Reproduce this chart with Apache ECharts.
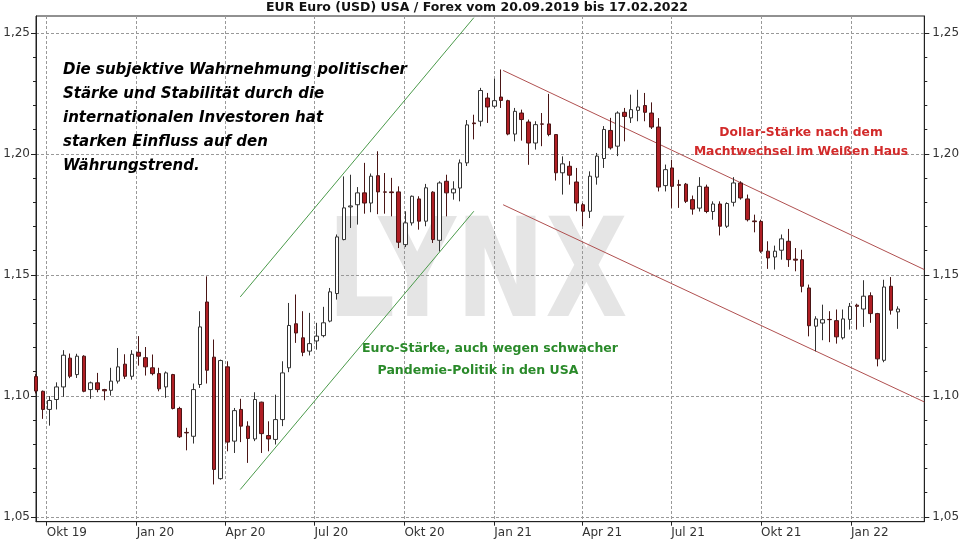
<!DOCTYPE html>
<html><head><meta charset="utf-8">
<script src="https://cdn.jsdelivr.net/npm/echarts@6/dist/echarts.min.js"></script>
<style>html,body{margin:0;padding:0;background:#fff}#c{width:960px;height:540px}</style>
</head><body><div id="c"></div>
<script>
// ---- data ----
const startDate = '2019-09-20';   // first weekly candle, first day of the axis
const endDate = '2022-03-17';     // last day of the axis
const candleCount = 127;          // weekly candles
const openVals = [1.1080,1.1019,1.0944,1.0985,1.1037,1.1156,1.1088,1.1164,1.1026,1.1054,
1.1026,1.1023,1.1061,1.1131,1.1081,1.1180,1.1158,1.1116,1.1092,1.1037,
1.1088,1.0948,1.0849,1.0833,1.1047,1.1388,1.1160,1.0658,1.1120,1.0813,
1.0944,1.0875,1.0822,1.0974,1.0836,1.0820,1.0902,1.1116,1.1298,1.1240,
1.1185,1.1227,1.1249,1.1309,1.1423,1.1646,1.1781,1.1790,1.1839,1.1797,
1.1910,1.1843,1.1843,1.1843,1.1625,1.1715,1.1814,1.1722,1.1842,1.1643,
1.1887,1.1839,1.1859,1.1963,1.2128,1.2135,1.2231,1.2197,1.2235,1.2220,
1.2082,1.2169,1.2132,1.2045,1.2124,1.2124,1.2080,1.1922,1.1949,1.1884,
1.1790,1.1763,1.1904,1.1981,1.2097,1.2032,1.2172,1.2149,1.2180,1.2200,
1.2169,1.2111,1.1869,1.1942,1.1873,1.1875,1.1811,1.1776,1.1863,1.1762,
1.1793,1.1701,1.1800,1.1880,1.1814,1.1723,1.1721,1.1598,1.1574,1.1602,
1.1639,1.1565,1.1563,1.1446,1.1288,1.1301,1.1316,1.1311,1.1240,1.1316,
1.1375,1.1359,1.1414,1.1340,1.1147,1.1453,1.1347];
const closeVals = [1.1020,1.0944,1.0981,1.1037,1.1168,1.1081,1.1164,1.1019,1.1054,1.1026,
1.1021,1.1061,1.1120,1.1081,1.1172,1.1164,1.1120,1.1092,1.1029,1.1095,
1.0948,1.0831,1.0847,1.1026,1.1285,1.1106,1.0696,1.1146,1.0809,1.0939,
1.0875,1.0824,1.0985,1.0844,1.0822,1.0902,1.1095,1.1291,1.1260,1.1180,
1.1216,1.1247,1.1302,1.1430,1.1657,1.1777,1.1785,1.1839,1.1797,1.1908,
1.1843,1.1842,1.1840,1.1635,1.1715,1.1825,1.1722,1.1860,1.1646,1.1880,
1.1839,1.1855,1.1963,1.2120,1.2125,1.2262,1.2194,1.2220,1.2221,1.2082,
1.2176,1.2142,1.2045,1.2121,1.2123,1.2080,1.1922,1.1959,1.1912,1.1797,
1.1763,1.1908,1.1991,1.2101,1.2025,1.2169,1.2155,1.2183,1.2194,1.2172,
1.2111,1.1863,1.1935,1.1866,1.1870,1.1804,1.1772,1.1866,1.1762,1.1793,
1.1701,1.1795,1.1880,1.1818,1.1728,1.1720,1.1598,1.1570,1.1598,1.1649,
1.1563,1.1561,1.1453,1.1290,1.1318,1.1315,1.1315,1.1244,1.1318,1.1370,
1.1370,1.1412,1.1340,1.1153,1.1450,1.1354,1.1359];
const lowVals = [1.1010,1.0905,1.0877,1.0944,1.0996,1.1073,1.1074,1.1015,1.0988,1.1015,
1.0982,1.1001,1.1051,1.1070,1.1067,1.1125,1.1084,1.1085,1.1019,1.0992,
1.0944,1.0826,1.0775,1.0803,1.1033,1.1051,1.0634,1.0654,1.0771,1.0764,
1.0809,1.0723,1.0813,1.0764,1.0771,1.0799,1.0875,1.1098,1.1219,1.1164,
1.1167,1.1191,1.1242,1.1304,1.1398,1.1643,1.1694,1.1708,1.1753,1.1759,
1.1751,1.1753,1.1742,1.1611,1.1615,1.1704,1.1687,1.1701,1.1632,1.1597,
1.1742,1.1811,1.1804,1.1950,1.2060,1.2114,1.2128,1.2190,1.2190,1.2077,
1.2052,1.2055,1.1955,1.2018,1.2032,1.2073,1.1890,1.1832,1.1873,1.1763,
1.1701,1.1735,1.1873,1.1942,1.2018,1.1991,1.2052,1.2128,1.2135,1.2135,
1.2103,1.1845,1.1845,1.1777,1.1777,1.1797,1.1749,1.1762,1.1755,1.1728,
1.1663,1.1694,1.1783,1.1811,1.1721,1.1676,1.1591,1.1525,1.1522,1.1563,
1.1533,1.1515,1.1428,1.1246,1.1184,1.1230,1.1222,1.1216,1.1233,1.1274,
1.1274,1.1285,1.1302,1.1122,1.1139,1.1336,1.1277];
const highVals = [1.1090,1.1022,1.0999,1.1056,1.1189,1.1175,1.1174,1.1168,1.1059,1.1095,
1.1029,1.1116,1.1198,1.1172,1.1189,1.1247,1.1202,1.1171,1.1116,1.1101,
1.1091,1.0955,1.0868,1.1051,1.1350,1.1494,1.1233,1.1150,1.1143,1.0950,
1.0988,1.0895,1.1015,1.0976,1.0895,1.1005,1.1143,1.1384,1.1419,1.1350,
1.1343,1.1302,1.1368,1.1446,1.1667,1.1907,1.1914,1.1863,1.1963,1.1919,
1.2011,1.1921,1.1901,1.1866,1.1763,1.1828,1.1825,1.1876,1.1846,1.1887,
1.1914,1.1887,1.1977,1.2140,1.2162,1.2273,1.2252,1.2311,1.2349,1.2224,
1.2190,1.2183,1.2142,1.2135,1.2169,1.2248,1.2080,1.1990,1.1970,1.1942,
1.1797,1.1928,1.2004,1.2115,1.2149,1.2176,1.2190,1.2245,1.2265,1.2252,
1.2213,1.2148,1.1956,1.1976,1.1893,1.1880,1.1828,1.1904,1.1873,1.1804,
1.1804,1.1800,1.1904,1.1887,1.1832,1.1749,1.1728,1.1639,1.1621,1.1667,
1.1690,1.1611,1.1604,1.1460,1.1329,1.1377,1.1350,1.1357,1.1357,1.1384,
1.1381,1.1478,1.1428,1.1343,1.1480,1.1491,1.1370];
const yTicks = [1.05, 1.10, 1.15, 1.20, 1.25];
const yMinorStep = 0.01;
const quarterMonthNames = { '01': 'Jan', '04': 'Apr', '07': 'Jul', '10': 'Okt' };
const greenUpperLine = [['2020-04-16', 1.1409], ['2020-12-11', 1.2563]];
const greenLowerLine = [['2020-04-16', 1.0613], ['2020-12-11', 1.1763]];
const redUpperLine = [['2021-01-10', 1.2345], ['2022-03-17', 1.1522]];
const redLowerLine = [['2021-01-10', 1.1790], ['2022-03-17', 1.0975]];
const titleText = 'EUR Euro (USD) USA / Forex vom 20.09.2019 bis 17.02.2022';
const noteLines = ['Die subjektive Wahrnehmung politischer', 'Stärke und Stabilität durch die',
  'internationalen Investoren hat', 'starken Einfluss auf den', 'Währungstrend.'];
const redNote = ['Dollar-Stärke nach dem', 'Machtwechsel im Weißen Haus'];
const greenNote = ['Euro-Stärke, auch wegen schwacher', 'Pandemie-Politik in den USA'];

// ---- build ----
function addDays(s, n) { const d = new Date(s + 'T00:00:00Z'); d.setUTCDate(d.getUTCDate() + n); return d.toISOString().slice(0, 10); }
const days = [];
for (let i = 0; i < 2000; i++) { const s = addDays(startDate, i); days.push(s); if (s === endDate) break; }
const weekDates = [];
for (let i = 0; i < candleCount; i++) weekDates.push(addDays(startDate, 7 * i));
const candleData = weekDates.map((d, i) => [days.indexOf(d), openVals[i], closeVals[i], lowVals[i], highVals[i]]);
const toLine = arr => arr.map(p => [days.indexOf(p[0]), p[1]]);
const isQuarter = (idx, v) => { const s = days[idx]; return s.slice(8) === '01' && quarterMonthNames[s.slice(5, 7)] !== undefined; };
const minorTicks = [];
for (let v = Math.round(yTicks[0] * 100); v <= Math.round(yTicks[yTicks.length - 1] * 100); v += Math.round(yMinorStep * 100)) minorTicks.push(v / 100);
const fmtY = v => Math.abs(v * 20 - Math.round(v * 20)) < 1e-6 ? v.toFixed(2).replace('.', ',') : '';
const FONT = 'DejaVu Sans';

const yMajor = (pos, margin, split) => ({
  type: 'value', position: pos, min: 1.048, max: 1.257, splitNumber: 4, minInterval: 0.05, maxInterval: 0.05,
  axisLine: { show: true, lineStyle: { color: '#222', width: 1 } },
  axisTick: { show: true, length: 5, customValues: yTicks, lineStyle: { color: '#222' } },
  axisLabel: { show: true, margin: margin, customValues: yTicks, formatter: fmtY, color: '#333', fontSize: 12, fontFamily: FONT },
  splitLine: { show: split, lineStyle: { color: '#999', type: [3, 2], width: 1 } },
  minorTick: { show: false }
});
const yMinorAxis = pos => ({
  type: 'value', position: pos, min: 1.048, max: 1.257, splitNumber: 4, minInterval: 0.05, maxInterval: 0.05,
  axisLine: { show: false }, axisLabel: { show: false }, splitLine: { show: false },
  axisTick: { show: true, length: 3, customValues: minorTicks, lineStyle: { color: '#222' } }
});

const lineSeries = (data, color) => ({
  type: 'line', data: toLine(data), xAxisIndex: 0, yAxisIndex: 0, showSymbol: false, symbol: 'none',
  lineStyle: { color: color, width: 1 }, silent: true, z: 3, clip: false
});

const chart = echarts.init(document.getElementById('c'), null, { renderer: 'canvas' });
chart.setOption({
  animation: false,
  backgroundColor: '#fff',
  grid: { left: 36, right: 35.7, top: 16, bottom: 18.3, show: true, borderColor: '#222', borderWidth: 1, outerBoundsMode: 'none', containLabel: false },
  xAxis: [{
    type: 'category', data: days, boundaryGap: false,
    axisLine: { show: true, lineStyle: { color: '#222' } },
    axisTick: { show: true, length: 4, interval: isQuarter, lineStyle: { color: '#222' } },
    axisLabel: { show: true, interval: isQuarter, align: 'left', margin: 5, color: '#333', fontSize: 12, fontFamily: FONT,
      formatter: v => quarterMonthNames[v.slice(5, 7)] + ' ' + v.slice(2, 4) },
    splitLine: { show: true, interval: isQuarter, lineStyle: { color: '#999', type: [3, 2], width: 1 } }
  }],
  yAxis: [yMajor('left', 6, true), yMajor('right', 8, false), yMinorAxis('left'), yMinorAxis('right')],
  series: [
    {
      type: 'candlestick', data: candleData, encode: { x: 0, y: [1, 2, 3, 4] }, barWidth: 4, z: 4,
      itemStyle: { color: '#ffffff', color0: '#b01e24', borderColor: '#333333', borderColor0: '#4a1515', borderWidth: 1 }
    },
    lineSeries(greenUpperLine, '#4a9a4a'),
    lineSeries(greenLowerLine, '#4a9a4a'),
    lineSeries(redUpperLine, '#b05050'),
    lineSeries(redLowerLine, '#b05050')
  ],
  graphic: [
    { type: 'text', z: -10, x: 327, y: 280, scaleX: 0.78, silent: true,
      style: { text: 'LYNX', font: 'bold 137px ' + FONT, fill: '#e5e5e5', align: 'left', verticalAlign: 'middle', textAlign: 'left', textVerticalAlign: 'middle' } },
    { type: 'text', x: 477, y: 8, silent: true,
      style: { text: titleText, font: 'bold 12.5px ' + FONT, fill: '#111', align: 'center', verticalAlign: 'middle', textAlign: 'center', textVerticalAlign: 'middle' } },
    ...noteLines.map((t, i) => ({ type: 'text', x: 63, y: 70 + 24 * i, silent: true, z: 10,
      style: { text: t, font: 'italic bold 15px ' + FONT, fill: '#000', align: 'left', verticalAlign: 'middle', textAlign: 'left', textVerticalAlign: 'middle' } })),
    ...redNote.map((t, i) => ({ type: 'text', x: 801, y: 133.3 + 18.4 * i, silent: true, z: 10,
      style: { text: t, font: 'bold 12.3px ' + FONT, fill: '#d22a2a', align: 'center', verticalAlign: 'middle', textAlign: 'center', textVerticalAlign: 'middle' } })),
    { type: 'text', x: 490, y: 348.3, silent: true, z: 10,
      style: { text: greenNote[0], font: 'bold 12.5px ' + FONT, fill: '#2a8a2a', align: 'center', verticalAlign: 'middle', textAlign: 'center', textVerticalAlign: 'middle' } },
    { type: 'text', x: 478, y: 370.7, silent: true, z: 10,
      style: { text: greenNote[1], font: 'bold 12.5px ' + FONT, fill: '#2a8a2a', align: 'center', verticalAlign: 'middle', textAlign: 'center', textVerticalAlign: 'middle' } }
  ]
});
</script></body></html>
